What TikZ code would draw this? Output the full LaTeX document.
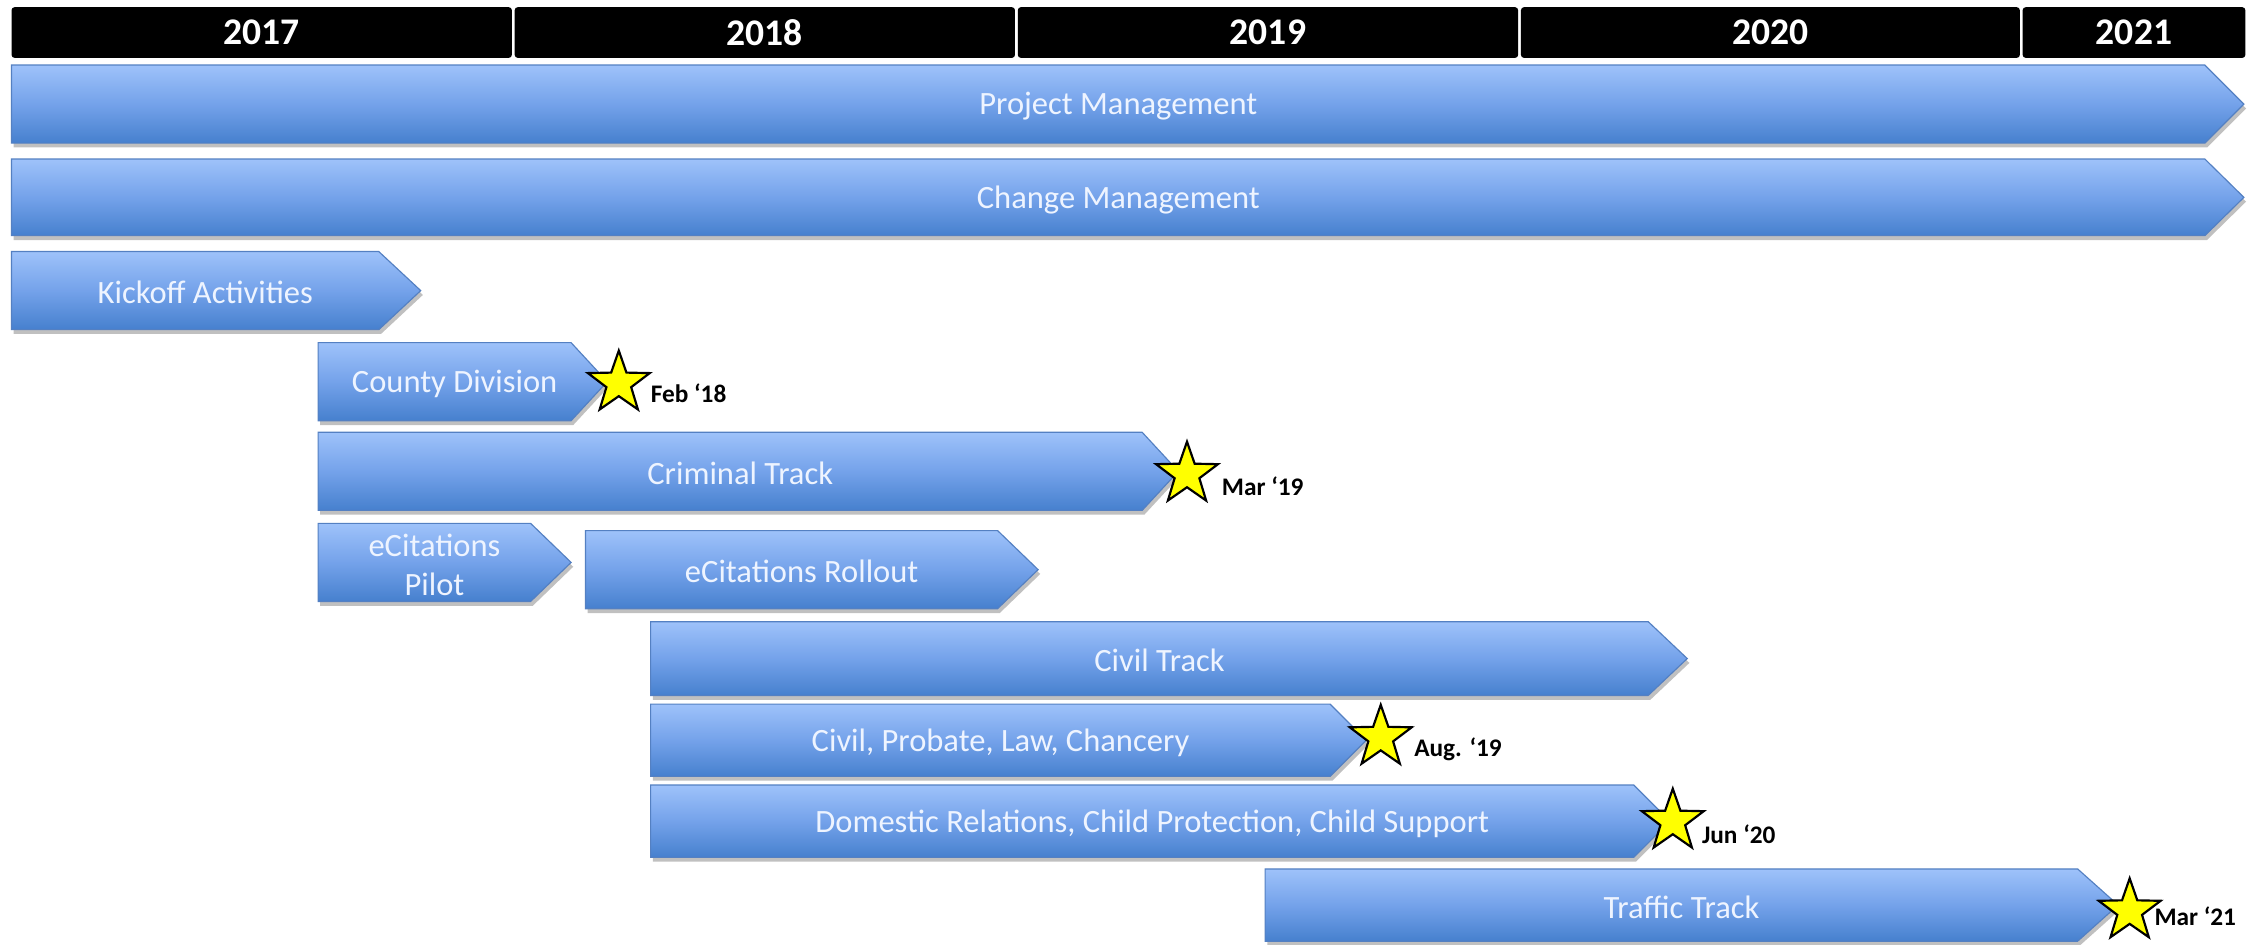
\documentclass[tikz,border=0pt]{standalone}
\usepackage{fontspec}
\setmainfont{Carlito}
\usetikzlibrary{shapes.geometric,shadows,shadings}
\definecolor{bartop}{RGB}{158,194,250}
\definecolor{barmid}{RGB}{116,162,234}
\definecolor{barbot}{RGB}{70,128,206}
\definecolor{barline}{RGB}{84,128,194}
\definecolor{bartext}{RGB}{238,244,255}
\definecolor{staryellow}{RGB}{255,255,0}
\tikzset{
  barshape/.style={draw=barline, line width=0.8pt, top color=bartop, bottom color=barbot, middle color=barmid,
    drop shadow={shadow xshift=1.5pt, shadow yshift=-3pt, opacity=0.35, fill=black!70}},
  bartxt/.style={text=bartext, font=\fontsize{22.5}{27}\selectfont, align=center, inner sep=0pt, yshift=-1.5pt},
  yearbox/.style={fill=black, rounded corners=2pt, text=white, font=\bfseries\fontsize{26}{30}\selectfont, inner sep=0pt},
  milestone/.style={star, star points=5, star point ratio=2.5, fill=staryellow, draw=black, line width=1.5pt, minimum size=45pt, inner sep=0pt},
  mslabel/.style={font=\bfseries\fontsize{17.5}{20}\selectfont, anchor=west, inner sep=0pt},
}
\newcommand\gbar[7]{%
  \path[barshape] (#2,#5) -- (#3,#5) -- (#4,{(#5+#6)/2}) -- (#3,#6) -- (#2,#6) -- cycle;
  \node[bartxt] (#1) at ({(#2+#3)/2+7},{(#5+#6)/2}) {#7};
}
\begin{document}
\begin{tikzpicture}[x=1pt,y=-1pt]
\useasboundingbox[fill=white] (0,0) rectangle (1568,653);
% year header
\node[yearbox, minimum width=346pt, minimum height=35pt] (y2017) at (181,22.5) {2017};
\node[yearbox, minimum width=346pt, minimum height=35pt] (y2018) at (529,22.5) {2018};
\node[yearbox, minimum width=346pt, minimum height=35pt] (y2019) at (877,22.5) {2019};
\node[yearbox, minimum width=345pt, minimum height=35pt] (y2020) at (1224.5,22.5) {2020};
\node[yearbox, minimum width=154pt, minimum height=35pt] (y2021) at (1476,22.5) {2021};
% bars: name, x1, shoulder, tip, ytop, ybot, text
\gbar{pm}{8}{1525}{1552}{45}{99}{Project Management}
\gbar{cm}{8}{1525}{1552}{110}{163}{Change Management}
\gbar{ko}{8}{262}{291}{174}{228}{Kickoff Activities}
\gbar{cd}{220}{395}{420}{237}{291}{County Division}
\gbar{ct}{220}{790}{815}{299}{353}{Criminal Track}
\gbar{ep}{220}{367}{395}{362}{416}{eCitations\\Pilot}
\gbar{er}{405}{690}{718}{367}{421}{eCitations Rollout}
\gbar{cv}{450}{1140}{1167}{430}{481}{Civil Track}
\gbar{cp}{450}{920}{945}{487}{537}{Civil, Probate, Law, Chancery}
\gbar{dr}{450}{1130}{1155}{543}{593}{Domestic Relations, Child Protection, Child Support}
\gbar{tt}{875}{1437}{1465}{601}{651}{Traffic Track}
% milestones
\node[milestone] (s1) at (428,265) {};
\node[mslabel] (l1) at (450,272) {Feb ‘18};
\node[milestone] (s2) at (821,328) {};
\node[mslabel] (l2) at (845,336) {Mar ‘19};
\node[milestone] (s3) at (955,510) {};
\node[mslabel] (l3) at (978,518) {Aug. ‘19};
\node[milestone] (s4) at (1157,568) {};
\node[mslabel] (l4) at (1177,577) {Jun ‘20};
\node[milestone] (s5) at (1473,630) {};
\node[mslabel] (l5) at (1490,634) {Mar ‘21};
\end{tikzpicture}
\end{document}
